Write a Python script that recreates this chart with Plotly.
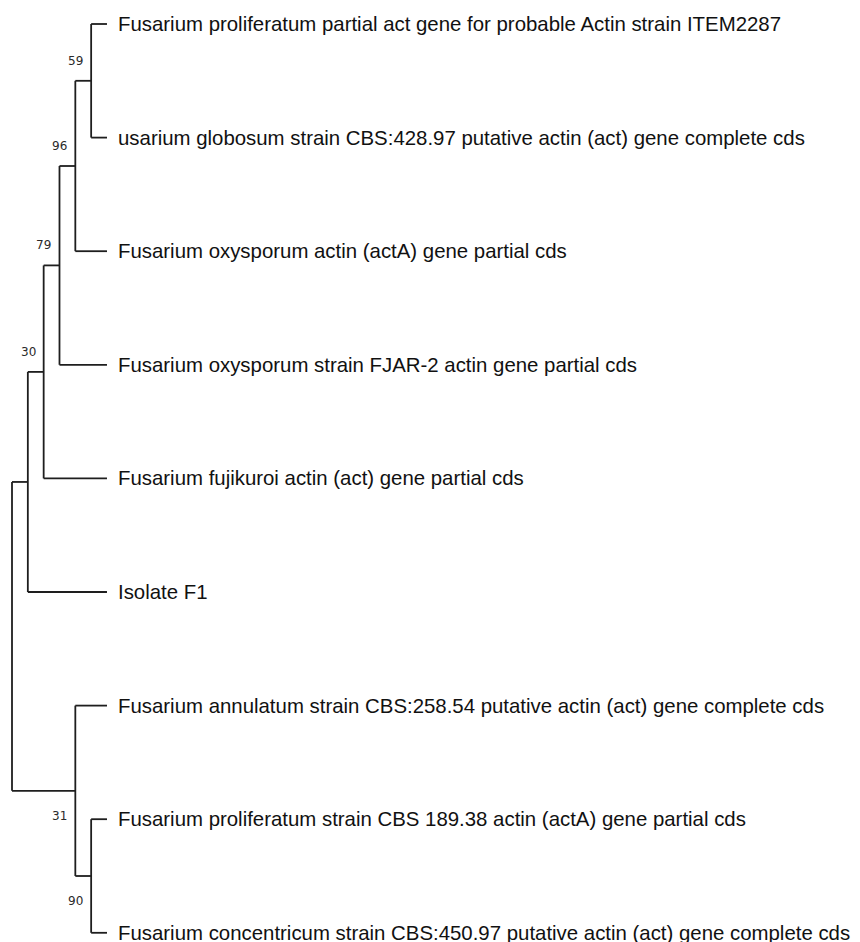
import plotly.graph_objects as go

# ---- data ----
leaf_names = [
    "Fusarium proliferatum partial act gene for probable Actin strain ITEM2287",
    "usarium globosum strain CBS:428.97 putative actin (act) gene complete cds",
    "Fusarium oxysporum actin (actA) gene partial cds",
    "Fusarium oxysporum strain FJAR-2 actin gene partial cds",
    "Fusarium fujikuroi actin (act) gene partial cds",
    "Isolate F1",
    "Fusarium annulatum strain CBS:258.54 putative actin (act) gene complete cds",
    "Fusarium proliferatum strain CBS 189.38 actin (actA) gene partial cds",
    "Fusarium concentricum strain CBS:450.97 putative actin (act) gene complete cds",
]
leaf_depth = 6  # cladogram tip depth

# internal nodes: name, children, depth, bootstrap support (None = not shown)
node_names    = ["n59", "n96", "n79", "n30", "nA", "n90", "n31", "root"]
node_children = [["L0", "L1"], ["n59", "L2"], ["n96", "L3"], ["n79", "L4"],
                 ["n30", "L5"], ["L7", "L8"], ["L6", "n90"], ["nA", "n31"]]
node_depth    = [5, 4, 3, 2, 1, 5, 4, 0]
node_support  = ["59", "96", "79", "30", None, "90", "31", None]
support_below = [False, False, False, False, False, True, True, False]

# ---- layout computation ----
pos = {}
for i, n in enumerate(leaf_names):
    pos[f"L{i}"] = (leaf_depth, i)
for name, ch, d in zip(node_names, node_children, node_depth):
    ys = [pos[c][1] for c in ch]
    pos[name] = (d, (min(ys) + max(ys)) / 2)

xs, ys = [], []
for name, ch in zip(node_names, node_children):
    nx, ny = pos[name]
    cy = [pos[c][1] for c in ch]
    xs += [nx, nx, None]
    ys += [min(cy), max(cy), None]
    for c in ch:
        cx, cyy = pos[c]
        xs += [nx, cx, None]
        ys += [cyy, cyy, None]

fig = go.Figure()
fig.add_trace(go.Scatter(x=xs, y=ys, mode="lines",
                         line=dict(color="#1e1e1e", width=1.8),
                         hoverinfo="skip", showlegend=False))

anns = []
for i, n in enumerate(leaf_names):
    anns.append(dict(x=leaf_depth, y=i, text=n, showarrow=False,
                     xanchor="left", yanchor="middle", xshift=9,
                     font=dict(family="Liberation Sans, Arial", size=20.4, color="#111111")))
for name, s, below in zip(node_names, node_support, support_below):
    if s is None:
        continue
    nx, ny = pos[name]
    anns.append(dict(x=nx, y=ny, text=s, showarrow=False,
                     xanchor="right", yanchor="top" if below else "bottom",
                     xshift=-6, yshift=-16 if below else 11,
                     font=dict(family="DejaVu Sans", size=12, color="#2a2a2a")))

W, H = 852, 934
px_per_x = 15.83
x0 = -4 / px_per_x
px_per_y = 113.6
y0 = -16 / px_per_y

fig.update_layout(
    width=W, height=H,
    margin=dict(l=0, r=0, t=0, b=0),
    paper_bgcolor="white", plot_bgcolor="white",
    xaxis=dict(range=[x0, x0 + W / px_per_x], visible=False, fixedrange=True),
    yaxis=dict(range=[y0 + H / px_per_y, y0], visible=False, fixedrange=True),
    annotations=anns,
    showlegend=False,
)
fig.write_html("out.html")
